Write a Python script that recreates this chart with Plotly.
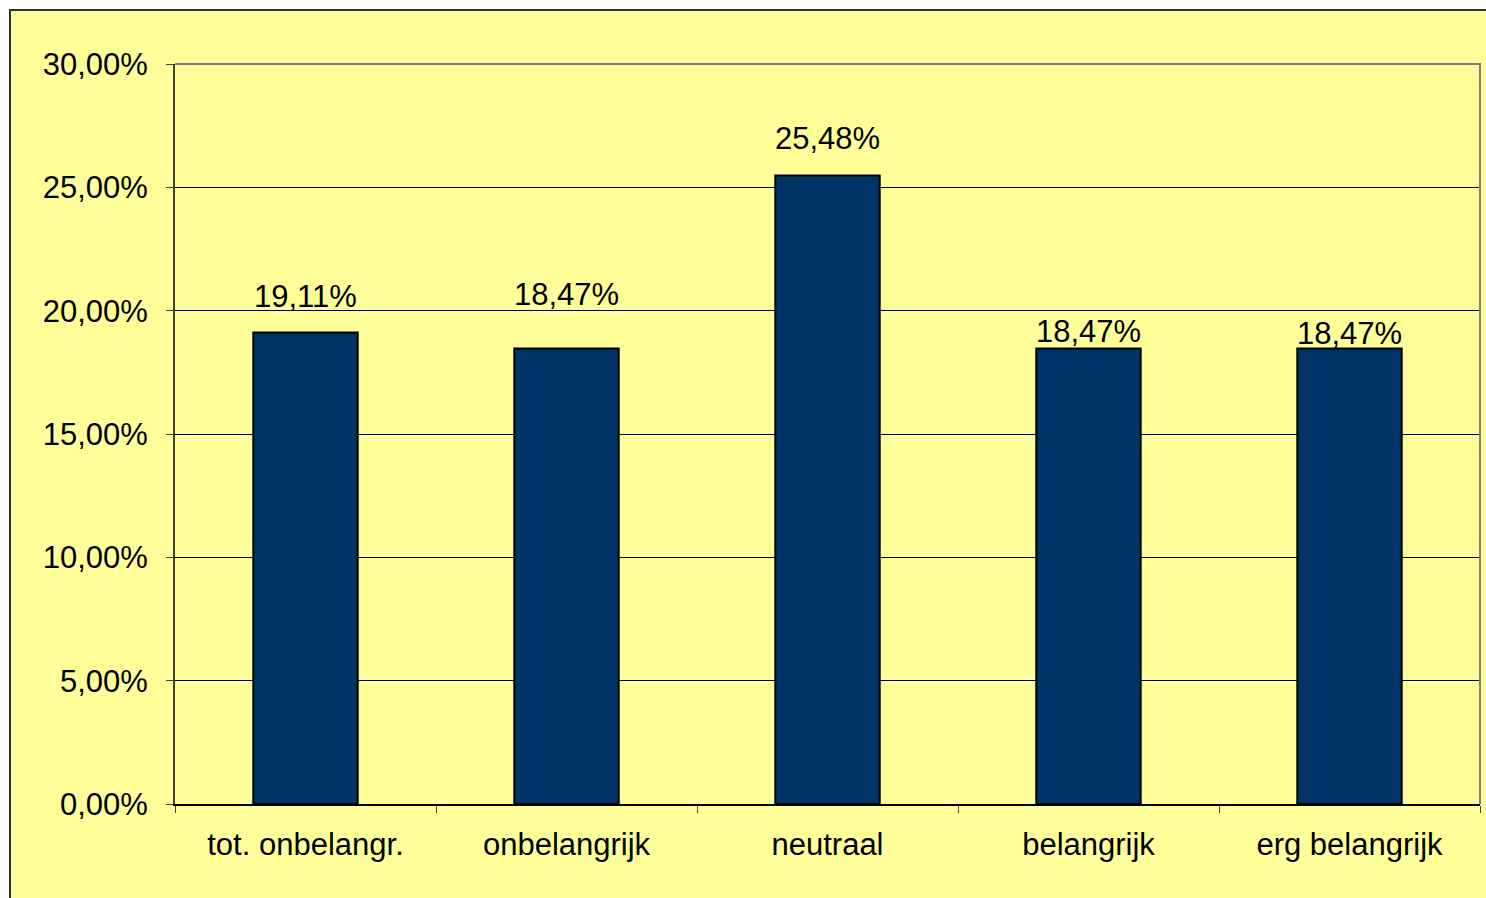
import plotly.graph_objects as go

categories = ["tot. onbelangr.", "onbelangrijk", "neutraal", "belangrijk", "erg belangrijk"]
values = [0.1911, 0.1847, 0.2548, 0.1847, 0.1847]
value_labels = ["19,11%", "18,47%", "25,48%", "18,47%", "18,47%"]
label_shifts = [36, 54, 37, 17, 15]

FONT = "Liberation Sans, Arial, sans-serif"

fig = go.Figure()
fig.add_trace(go.Bar(
    x=categories, y=values,
    marker=dict(color="#003366", line=dict(color="#000000", width=2)),
    width=0.40,
    hoverinfo="skip",
))

for c, v, t, s in zip(categories, values, value_labels, label_shifts):
    fig.add_annotation(x=c, y=v, text=t, showarrow=False, yanchor="middle",
                       yshift=s, font=dict(family=FONT, size=31, color="#000000"))

W, H = 1486, 898
L, T = 175, 64
R = W - 1480
B = H - 804
pw, ph = W - L - R, H - T - B

# outer chart area (yellow with dark border) starting at page px 10
fig.add_shape(type="rect", xref="paper", yref="paper", layer="below",
              x0=(10 - L) / pw, x1=(W + 20 - L) / pw,
              y0=-(B + 20) / ph, y1=(ph + T - 10) / ph,
              fillcolor="#FFFF99", line=dict(color="#303030", width=2))
# plot area border top and right (gray)
fig.add_shape(type="path", xref="paper", yref="paper", layer="above",
              path="M 0,1 L 1,1 L 1,0",
              line=dict(color="#808080", width=2))

fig.update_layout(
    width=W, height=H,
    margin=dict(l=L, r=R, t=T, b=B, autoexpand=False),
    paper_bgcolor="#FFFFFF",
    plot_bgcolor="rgba(0,0,0,0)",
    separators=",.",
    showlegend=False,
    font=dict(family=FONT, size=31, color="#000000"),
)
fig.update_xaxes(
    type="category", tickson="boundaries", ticks="outside", ticklen=7,
    tickcolor="#404040", tickwidth=1,
    showline=True, linecolor="#000000", linewidth=2,
    showgrid=False, ticklabelstandoff=12,
    tickfont=dict(family=FONT, size=31, color="#000000"),
)
fig.update_yaxes(
    range=[0, 0.30], tick0=0, dtick=0.05, tickformat=".2%",
    ticks="outside", ticklen=7, tickcolor="#404040", tickwidth=1,
    showline=True, linecolor="#404040", linewidth=2,
    showgrid=True, gridcolor="#000000", gridwidth=1,
    zeroline=False, ticklabelstandoff=12,
    tickfont=dict(family=FONT, size=31, color="#000000"),
)

fig.write_html(
    "out.html",
    config={"displayModeBar": False},
    post_script="document.body.style.margin='0';document.body.style.overflow='hidden';",
)
